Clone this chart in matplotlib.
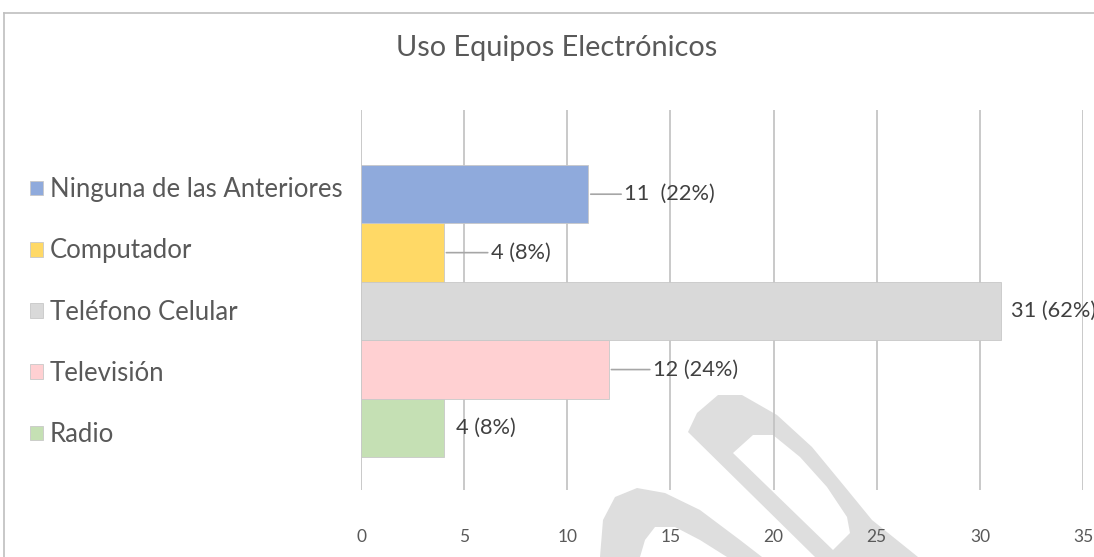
import matplotlib
matplotlib.use('Agg')
import matplotlib.pyplot as plt
from matplotlib.lines import Line2D
from matplotlib.patches import Polygon

#Datos de la gráfica
categorias = ['Radio', 'Televisión', 'Teléfono Celular', 'Computador', 'Ninguna de las Anteriores']
cantidades = [4, 12, 31, 4, 11]
porcentajes = ['8%', '24%', '62%', '8%', '22%']
ticks_x = [0, 5, 10, 15, 20, 25, 30, 35]

#Estilos
colores = ['#c5e0b4', '#ffd0d2', '#d9d9d9', '#ffd966', '#8faadc']
separador = ['', '', '', '', ' ']
desplazamientos = [12, 44, 10, 47, 36]
con_linea = [False, True, False, True, True]
gris_texto = '#595959'

plt.rcParams['font.family'] = ['Lato', 'DejaVu Sans']

W, H = 1094, 557
fig = plt.figure(figsize=(W / 100, H / 100), dpi=100)
ax = fig.add_axes([0.33, 0.1203, 0.66, 0.6822])
ax.set_facecolor('none')

#Marca de agua de fondo (en pixeles de la imagen)
def px(puntos):
    return [(x / W, 1 - y / H) for x, y in puntos]

marca_exterior = [(688, 432), (697, 413), (718, 395), (742, 395), (777, 415), (812, 447),
                  (845, 487), (872, 520), (918, 557), (815, 557)]
marca_hueco = [(733, 453), (753, 435), (773, 435), (800, 457), (827, 487), (847, 517),
               (850, 533), (833, 550)]
marca_arco = [(600, 557), (603, 520), (615, 497), (637, 488), (665, 493), (700, 510),
              (740, 540), (762, 557), (727, 557), (700, 540), (675, 527), (655, 527),
              (645, 540), (640, 557)]
for pts, col, z in [(marca_exterior, '#dedede', -3), (marca_hueco, 'white', -2),
                    (marca_arco, '#dedede', -3)]:
    fig.add_artist(Polygon(px(pts), closed=True, facecolor=col, edgecolor='none',
                           transform=fig.transFigure, zorder=z))

#Barras
barras = []
for i, (cat, val) in enumerate(zip(categorias, cantidades)):
    b = ax.barh(i, val, height=1.0, color=colores[i], edgecolor='#c8c8c8',
                linewidth=0.6, label=cat, zorder=2)
    barras.append(b)

#Etiquetas de datos
for i, val in enumerate(cantidades):
    texto = '%d %s(%s)' % (val, separador[i], porcentajes[i])
    props = None
    if con_linea[i]:
        props = dict(arrowstyle='-', color='#a6a6a6', lw=1.2, shrinkA=0, shrinkB=2)
    ax.annotate(texto, xy=(val, i), xytext=(desplazamientos[i], 0),
                textcoords='offset pixels', ha='left', va='center',
                fontsize=15.7, color='#404040', arrowprops=props, zorder=3)

ax.set_xlim(0, 35)
ax.set_ylim(-1.06, 5.44)
ax.set_xticks(ticks_x)
ax.set_yticks([])
ax.grid(axis='x', color='#c0c0c0', linewidth=1.2, zorder=0)
ax.set_axisbelow(True)
for s in ax.spines.values():
    s.set_visible(False)
ax.tick_params(axis='x', length=0, pad=28, labelsize=12.5, labelcolor=gris_texto)

#Titulo
fig.text(0.509, 0.914, 'Uso Equipos Electrónicos', ha='center', va='center',
         fontsize=20.8, color=gris_texto)

#Leyenda (orden de arriba hacia abajo)
handles = barras[::-1]
etiquetas = categorias[::-1]
fig.legend(handles, etiquetas, loc='upper left', bbox_to_anchor=(0.0274, 0.682),
           frameon=False, fontsize=18.5, labelcolor=gris_texto, handlelength=0.5,
           handleheight=0.5, handletextpad=0.27, labelspacing=1.41, borderaxespad=0,
           borderpad=0)

#Borde del area de la grafica
fig.add_artist(Line2D([4 / W, 1.0], [1 - 13 / H, 1 - 13 / H],
                      color='#bfbfbf', lw=1.2, transform=fig.transFigure))
fig.add_artist(Line2D([4 / W, 4 / W], [0, 1 - 13 / H],
                      color='#bfbfbf', lw=1.2, transform=fig.transFigure))

fig.savefig('out.png', dpi=100)
